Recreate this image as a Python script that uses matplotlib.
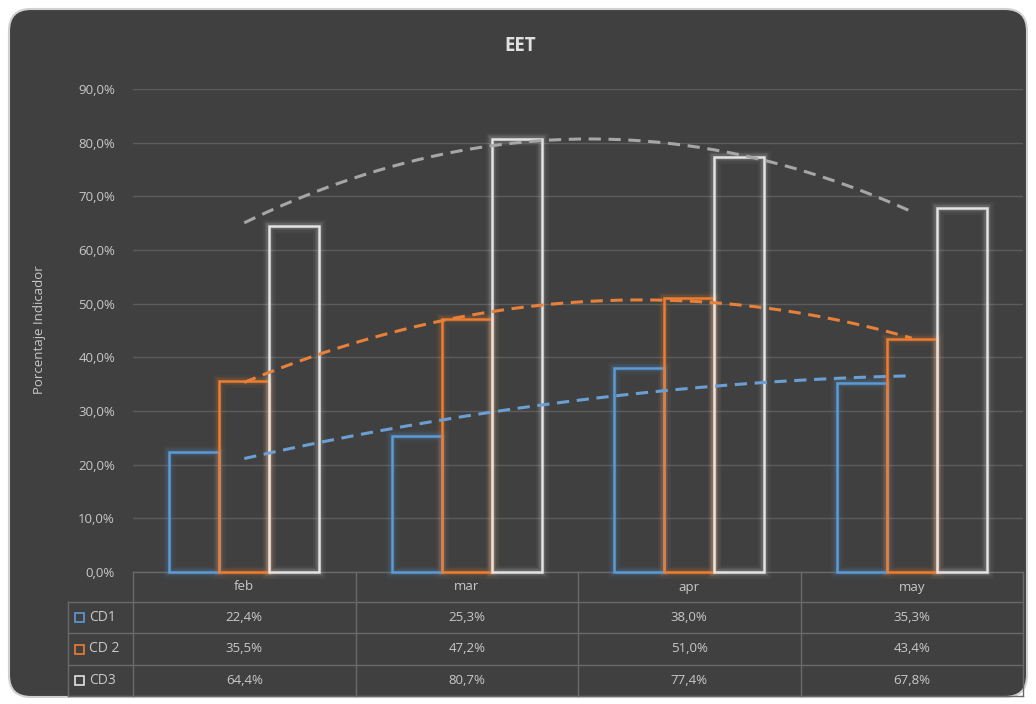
import matplotlib.pyplot as plt
import numpy as np
from matplotlib.patches import FancyBboxPatch, Rectangle

months = ['feb', 'mar', 'apr', 'may']
series_names = ['CD1', 'CD 2', 'CD3']
cd1 = [22.4, 25.3, 38.0, 35.3]
cd2 = [35.5, 47.2, 51.0, 43.4]
cd3 = [64.4, 80.7, 77.4, 67.8]

colors = ['#5b9bd5', '#ed7d31', '#e3e3e3']
trend_colors = ['#6b9fd4', '#e8803a', '#a6a6a6']
bg = '#404040'
txt = '#c8c8c8'
grid = '#5c5c5c'

W, H = 1036, 704
plt.rcParams['font.family'] = ['Open Sans', 'DejaVu Sans']

fig = plt.figure(figsize=(W / 100, H / 100), dpi=100)
fig.patch.set_facecolor('white')

# pixel-space layer for the panel and the data table
bgax = fig.add_axes([0, 0, 1, 1], zorder=0)
bgax.set_xlim(0, W)
bgax.set_ylim(H, 0)
bgax.axis('off')
bgax.add_patch(FancyBboxPatch((9, 9), W - 18, H - 16,
                              boxstyle='round,pad=0,rounding_size=22',
                              facecolor=bg, edgecolor='#d0d0d0', lw=1.5))

# plot area limits in pixels
L, R = 133, 1023
y0, y90 = 572, 89
ax = fig.add_axes([L / W, (H - y0) / H, (R - L) / W, (y0 - y90) / H], zorder=1)
ax.patch.set_alpha(0)
ax.set_xlim(-0.5, len(months) - 0.5)
ax.set_ylim(0, 90)
for s in ax.spines.values():
    s.set_visible(False)
ax.set_yticks(np.arange(0, 91, 10))
ax.set_yticklabels([f'{v:.1f}%'.replace('.', ',') for v in np.arange(0, 91, 10)])
ax.tick_params(axis='y', length=0, colors=txt, labelsize=9.5, pad=13)
ax.set_xticks([])
ax.yaxis.grid(True, color=grid, lw=1)
ax.set_axisbelow(True)
fig.text(40 / W, (H - 330) / H, 'Porcentaje Indicador', color=txt, fontsize=9.5,
         rotation=90, ha='center', va='center')

x = np.arange(len(months))
bw = 0.225
all_series = [cd1, cd2, cd3]
for i, vals in enumerate(all_series):
    xs = x + (i - 1) * bw
    # soft glow behind each outlined bar
    for lw, a in [(9, 0.05), (6, 0.08), (4, 0.12)]:
        ax.bar(xs, vals, bw, facecolor='none', edgecolor=colors[i], lw=lw,
               alpha=a, zorder=2, clip_on=False)
    ax.bar(xs, vals, bw, facecolor='none', edgecolor=colors[i], lw=1.8,
           zorder=3, clip_on=False)

# second-order polynomial trendlines
xt = np.linspace(0, len(months) - 1, 200)
for i, vals in enumerate(all_series):
    p = np.polyfit(x, vals, 2)
    ax.plot(xt, np.polyval(p, xt), color=trend_colors[i], lw=2.2,
            ls=(0, (4, 2.5)), zorder=4)

fig.text(0.502, (H - 46) / H, 'EET', color='#e0e0e0', fontsize=13.5,
         fontweight='bold', ha='center', va='center')

# data table under the plot
edges = np.linspace(L, R, len(months) + 1)
rows = [y0, 602, 633, 665, 696]
legend_left = 68
tc = '#6a6a6a'
bgax.plot([L, R], [y0, y0], color=tc, lw=1)
for yy in rows[1:]:
    bgax.plot([legend_left, R], [yy, yy], color=tc, lw=1)
for xx in edges:
    bgax.plot([xx, xx], [y0, rows[-1]], color=tc, lw=1)
bgax.plot([legend_left, legend_left], [rows[1], rows[-1]], color=tc, lw=1)

centers = (edges[:-1] + edges[1:]) / 2
for c, m in zip(centers, months):
    bgax.text(c, (rows[0] + rows[1]) / 2, m, color=txt, fontsize=9.5,
              ha='center', va='center')
for r, (name, vals) in enumerate(zip(series_names, all_series)):
    yc = (rows[r + 1] + rows[r + 2]) / 2
    bgax.add_patch(Rectangle((75, yc - 4.5), 9, 9, facecolor='none',
                             edgecolor=colors[r], lw=1.2))
    bgax.text(89, yc, name, color=txt, fontsize=10, ha='left', va='center')
    for c, v in zip(centers, vals):
        bgax.text(c, yc, f'{v:.1f}%'.replace('.', ','), color=txt,
                  fontsize=9.5, ha='center', va='center')

fig.savefig('out.png', dpi=100)
